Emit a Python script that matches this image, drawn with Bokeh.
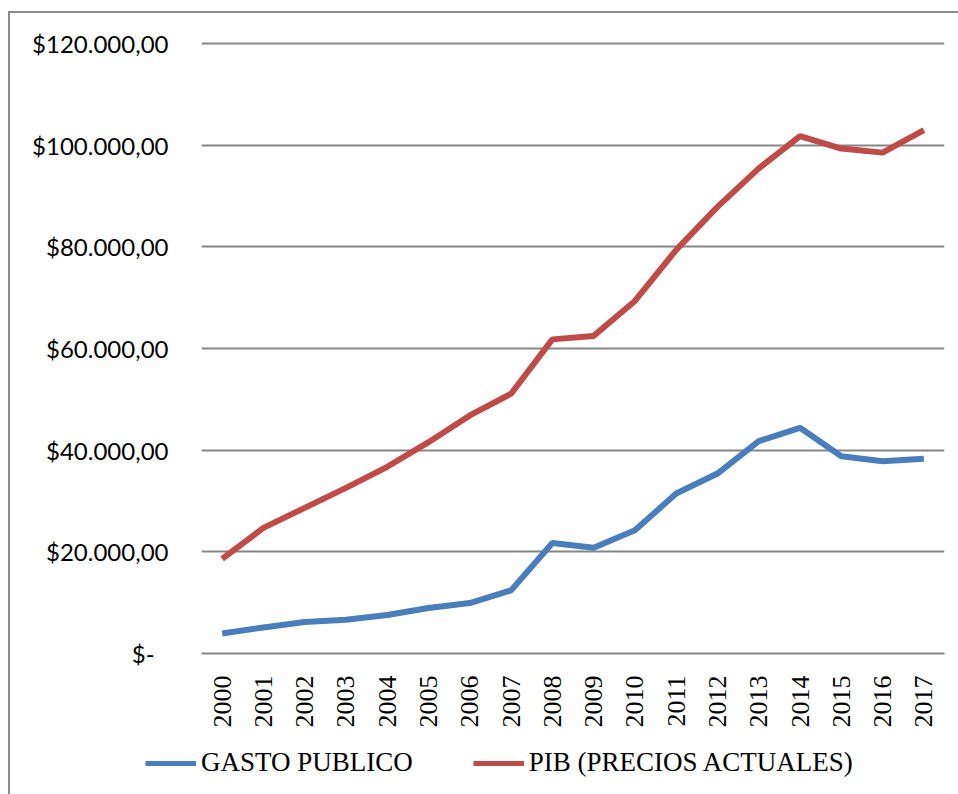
from bokeh.plotting import figure
from bokeh.layouts import column, row
from bokeh.models import (ColumnDataSource, FactorRange, Legend, LegendItem,
                          FixedTicker, CustomJSTickFormatter)
from bokeh.embed import file_html
from bokeh.resources import INLINE

years = [str(y) for y in range(2000, 2018)]
gasto_publico = [3940, 5120, 6190, 6640, 7570, 8950, 9930, 12420, 21750, 20790,
                 24250, 31470, 35400, 41770, 44400, 38820, 37840, 38300]
pib_precios_actuales = [18600, 24710, 28650, 32590, 36730, 41580, 46840, 51110, 61800,
                        62480, 69360, 79400, 87870, 95430, 101770, 99330, 98540, 102950]
y_ticks = [0, 20000, 40000, 60000, 80000, 100000, 120000]
series_names = ["GASTO PUBLICO", "PIB (PRECIOS ACTUALES)"]
series_colors = ["#4a7ebb", "#be4b48"]

src = ColumnDataSource(dict(year=years, gasto=gasto_publico, pib=pib_precios_actuales))

p = figure(width=949, height=717, x_range=FactorRange(*years), y_range=(0, 120400),
           output_backend="svg", toolbar_location=None,
           min_border_left=191, min_border_right=15, min_border_top=28, min_border_bottom=76)
p.outline_line_color = None
p.background_fill_color = "white"
p.border_fill_color = "white"
p.x_range.range_padding = 0
p.x_range.factor_padding = 0

p.line("year", "gasto", source=src, line_color=series_colors[0], line_width=6)
p.line("year", "pib", source=src, line_color=series_colors[1], line_width=6)

# y axis
p.yaxis.ticker = FixedTicker(ticks=y_ticks)
p.yaxis.formatter = CustomJSTickFormatter(code="""
if (tick == 0) { return "$-\u2007"; }
const s = Math.round(tick).toString().replace(/\\B(?=(\\d{3})+(?!\\d))/g, ".");
return "$" + s + ",00";
""")
p.yaxis.axis_line_color = None
p.yaxis.major_tick_line_color = None
p.yaxis.minor_tick_line_color = None
p.yaxis.major_label_standoff = 27
p.yaxis.major_label_text_font = "Lato"
p.yaxis.major_label_text_font_size = "24px"
p.yaxis.major_label_text_color = "#000000"

# x axis
p.xaxis.axis_line_color = "#868686"
p.xaxis.axis_line_width = 2
p.xaxis.major_tick_line_color = None
p.xaxis.minor_tick_line_color = None
p.xaxis.major_label_orientation = 3.14159265 / 2
p.xaxis.major_label_standoff = 16
p.xaxis.major_label_text_font = "Liberation Serif"
p.xaxis.major_label_text_font_size = "26px"
p.xaxis.major_label_text_color = "#000000"

p.xgrid.grid_line_color = None
p.ygrid.grid_line_color = "#868686"
p.ygrid.grid_line_width = 2

# legend strip below the chart (its lines hold no visible points)
lg = figure(width=949, height=64, output_backend="svg", toolbar_location=None,
            x_axis_type=None, y_axis_type=None, x_range=(0, 1), y_range=(0, 1),
            min_border_left=0, min_border_right=0, min_border_top=0, min_border_bottom=0)
lg.outline_line_color = None
lg.xgrid.grid_line_color = None
lg.ygrid.grid_line_color = None
lg.background_fill_color = "white"
lg.border_fill_color = "white"
items = []
for name, col in zip(series_names, series_colors):
    r = lg.line(x=[float("nan")], y=[float("nan")], line_color=col, line_width=5)
    items.append(LegendItem(label=name, renderers=[r]))

legend = Legend(items=items, orientation="horizontal", location=(135, 16))
legend.label_text_font = "Liberation Serif"
legend.label_text_font_size = "27px"
legend.label_text_color = "#000000"
legend.glyph_width = 51
legend.glyph_height = 30
legend.label_height = 30
legend.label_standoff = 5
legend.spacing = 60
legend.padding = 0
legend.margin = 0
legend.border_line_color = None
legend.background_fill_alpha = 0
lg.add_layout(legend, "center")

layout = column(p, row(lg, spacing=0), spacing=0)
layout.margin = (11, 0, 0, 8)
layout.styles = {"border-left": "2px solid #8c8c8c", "border-top": "2px solid #8c8c8c"}

open("out.html", "w").write(file_html(layout, INLINE))
